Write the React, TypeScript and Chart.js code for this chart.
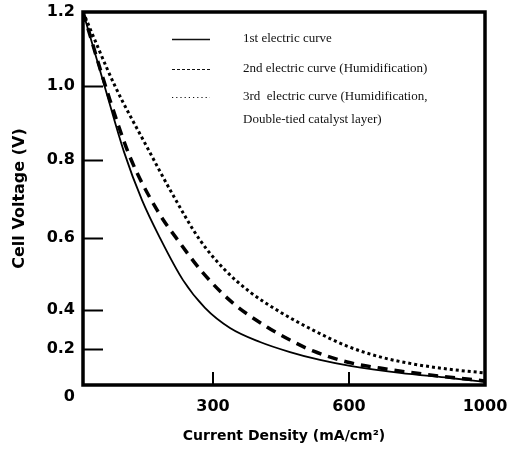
import React, { useEffect, useRef } from 'react';
import { Chart, LineController, LineElement, PointElement, LinearScale } from 'chart.js';

// ---- data ----
const seriesLabels = [
  '1st electric curve',
  '2nd electric curve (Humidification)',
  '3rd  electric curve (Humidification,\nDouble-tied catalyst layer)',
];

const firstX = [0, 48.5, 94.6, 136.2, 177.7, 230.8, 281.5, 337.5, 403.7, 469.9, 536, 603, 750, 897, 1000];
const firstY = [1.2, 1.005, 0.822, 0.697, 0.6, 0.483, 0.406, 0.308, 0.236, 0.183, 0.139, 0.106, 0.067, 0.039, 0.017];

const secondX = [0, 60, 108.5, 170.8, 223.8, 276.9, 344.1, 419.1, 469.9, 520.6, 595.6, 691.2, 838.2, 1000];
const secondY = [1.2, 0.97, 0.808, 0.672, 0.586, 0.503, 0.419, 0.313, 0.246, 0.189, 0.128, 0.094, 0.056, 0.022];

const thirdX = [0, 73.8, 147.7, 207.7, 270, 326.5, 381.6, 447.8, 520.6, 595.6, 691.2, 788.2, 888.2, 1000];
const thirdY = [1.2, 1.0, 0.835, 0.71, 0.594, 0.511, 0.45, 0.39, 0.297, 0.215, 0.156, 0.117, 0.089, 0.067];

// axis tick values / labels
const xTickValues = [300, 600, 1000];
const xTickLabels = ['300', '600', '1000'];
const yTickValues = [0, 0.2, 0.4, 0.6, 0.8, 1.0, 1.2];
const yTickLabels = ['0', '0.2', '0.4', '0.6', '0.8', '1.0', '1.2'];
const xInnerTicks = [300, 600];
const yInnerTicks = [0.2, 0.4, 0.6, 0.8, 1.0];

// the original axes are not uniformly spaced: knots of a piecewise-linear scale
const xKnotValues = [0, 300, 600, 1000];
const xKnotFractions = [0, 0.3234, 0.6617, 1];
const yKnotValues = [0, 0.2, 0.4, 0.6, 0.8, 1.0, 1.2];
const yKnotFractions = [0, 0.0965, 0.2011, 0.3941, 0.6032, 0.8016, 1];

function interp(v: number, xs: number[], ys: number[]) {
  const n = xs.length - 1;
  if (v <= xs[0]) return ys[0] + ((v - xs[0]) * (ys[1] - ys[0])) / (xs[1] - xs[0]);
  for (let i = 1; i <= n; i++) {
    if (v <= xs[i]) return ys[i - 1] + ((v - xs[i - 1]) * (ys[i] - ys[i - 1])) / (xs[i] - xs[i - 1]);
  }
  return ys[n] + ((v - xs[n]) * (ys[n] - ys[n - 1])) / (xs[n] - xs[n - 1]);
}

class PiecewiseScale extends LinearScale {
  static id = 'piecewise';
  static defaults = (LinearScale as any).defaults;
  knots(): [number[], number[]] {
    return (this as any).axis === 'x' ? [xKnotValues, xKnotFractions] : [yKnotValues, yKnotFractions];
  }
  getPixelForValue(value: number) {
    if (value === null || value === undefined || isNaN(value)) return NaN;
    const [vs, fs] = this.knots();
    return this.getPixelForDecimal(interp(value, vs, fs));
  }
  getValueForPixel(pixel: number) {
    const [vs, fs] = this.knots();
    return interp(this.getDecimalForPixel(pixel), fs, vs);
  }
}

Chart.register(LineController, LineElement, PointElement, LinearScale, PiecewiseScale as any);

const toPoints = (xs: number[], ys: number[]) => xs.map((x, i) => ({ x, y: ys[i] }));

const framePlugin = {
  id: 'frame',
  afterDatasetsDraw(chart: any) {
    const { ctx, chartArea: a, scales } = chart;
    ctx.save();
    ctx.strokeStyle = '#000';
    ctx.lineWidth = 3.5;
    ctx.strokeRect(a.left, a.top, a.right - a.left, a.bottom - a.top);
    ctx.lineWidth = 2;
    for (const v of yInnerTicks) {
      const y = Math.round(scales.y.getPixelForValue(v)) + 0.5;
      ctx.beginPath();
      ctx.moveTo(a.left, y);
      ctx.lineTo(a.left + 20, y);
      ctx.stroke();
    }
    for (const v of xInnerTicks) {
      const x = Math.round(scales.x.getPixelForValue(v));
      ctx.beginPath();
      ctx.moveTo(x, a.bottom);
      ctx.lineTo(x, a.bottom - 13);
      ctx.stroke();
    }
    ctx.restore();
  },
};

const legendPlugin = {
  id: 'innerLegend',
  afterDraw(chart: any) {
    const { ctx, chartArea: a } = chart;
    const rows = [27, 57, 85];
    const sampleLeft = a.left + 89;
    const sampleRight = a.left + 127;
    const textX = a.left + 160;
    ctx.save();
    ctx.fillStyle = '#111';
    ctx.strokeStyle = '#111';
    ctx.font = '13px "Liberation Serif", "Times New Roman", serif';
    ctx.textBaseline = 'middle';
    ctx.textAlign = 'left';
    const dashes = [[], [3, 2], [1.2, 3]];
    chart.data.datasets.forEach((ds: any, i: number) => {
      const y = a.top + rows[i];
      ctx.lineWidth = i === 0 ? 1.6 : 1;
      ctx.setLineDash(dashes[i]);
      ctx.beginPath();
      ctx.moveTo(sampleLeft, y + 0.5);
      ctx.lineTo(sampleRight, y + 0.5);
      ctx.stroke();
      const lines = String(ds.label).split('\n');
      lines.forEach((t: string, k: number) => ctx.fillText(t, textX, y + k * 23));
    });
    ctx.restore();
  },
};

export default function App() {
  const ref = useRef<HTMLCanvasElement | null>(null);
  useEffect(() => {
    document.body.style.margin = '0';
    const canvas = ref.current!;
    const tickFont = { family: '"DejaVu Sans", Arial, sans-serif', size: 16, weight: 'bold' as const, lineHeight: 1.5 };
    const chart = new Chart(canvas, {
      type: 'line',
      data: {
        datasets: [
          {
            label: seriesLabels[0],
            data: toPoints(firstX, firstY),
            borderColor: '#000',
            borderWidth: 1.8,
            pointRadius: 0,
            cubicInterpolationMode: 'monotone',
          },
          {
            label: seriesLabels[1],
            data: toPoints(secondX, secondY),
            borderColor: '#000',
            borderWidth: 3.5,
            borderDash: [10, 7],
            pointRadius: 0,
            cubicInterpolationMode: 'monotone',
          },
          {
            label: seriesLabels[2],
            data: toPoints(thirdX, thirdY),
            borderColor: '#000',
            borderWidth: 3,
            borderDash: [3, 3],
            pointRadius: 0,
            cubicInterpolationMode: 'monotone',
          },
        ],
      },
      options: {
        animation: false,
        responsive: false,
        events: [],
        layout: { padding: { left: 0, top: 12, right: 29, bottom: 0 } },
        plugins: { legend: { display: false }, tooltip: { enabled: false } },
        scales: {
          x: {
            type: 'piecewise' as any,
            min: 0,
            max: 1000,
            grid: { display: false, drawTicks: false },
            border: { display: false },
            afterBuildTicks: (s: any) => {
              s.ticks = xTickValues.map((v) => ({ value: v }));
            },
            afterFit: (s: any) => {
              s.height = 65;
              s.paddingLeft = 0;
              s.paddingRight = 0;
            },
            ticks: {
              padding: 10,
              color: '#000',
              font: tickFont,
              maxRotation: 0,
              autoSkip: false,
              callback: (_v: any, i: number) => xTickLabels[i],
            },
            title: {
              display: true,
              text: 'Current Density (mA/cm²)',
              color: '#000',
              font: { family: '"DejaVu Sans", Arial, sans-serif', size: 14, weight: 'bold' },
              padding: { top: 0, bottom: 5 },
            },
          } as any,
          y: {
            type: 'piecewise' as any,
            min: 0,
            max: 1.2,
            grid: { display: false, drawTicks: false },
            border: { display: false },
            afterBuildTicks: (s: any) => {
              s.ticks = yTickValues.map((v) => ({ value: v }));
            },
            afterFit: (s: any) => {
              s.width = 83;
              s.paddingTop = 0;
              s.paddingBottom = 0;
            },
            ticks: {
              padding: 8,
              color: '#000',
              font: tickFont,
              autoSkip: false,
              callback: (_v: any, i: number) => (yTickLabels[i] === '0' ? ['', '0'] : yTickLabels[i]),
            },
            title: {
              display: true,
              text: 'Cell Voltage (V)',
              color: '#000',
              font: { family: '"DejaVu Sans", Arial, sans-serif', size: 16, weight: 'bold' },
              padding: { top: 10, bottom: 0 },
            },
          } as any,
        },
      },
      plugins: [framePlugin, legendPlugin],
    });
    return () => chart.destroy();
  }, []);
  return <canvas ref={ref} width={514} height={450} style={{ display: 'block', width: 514, height: 450 }} />;
}
